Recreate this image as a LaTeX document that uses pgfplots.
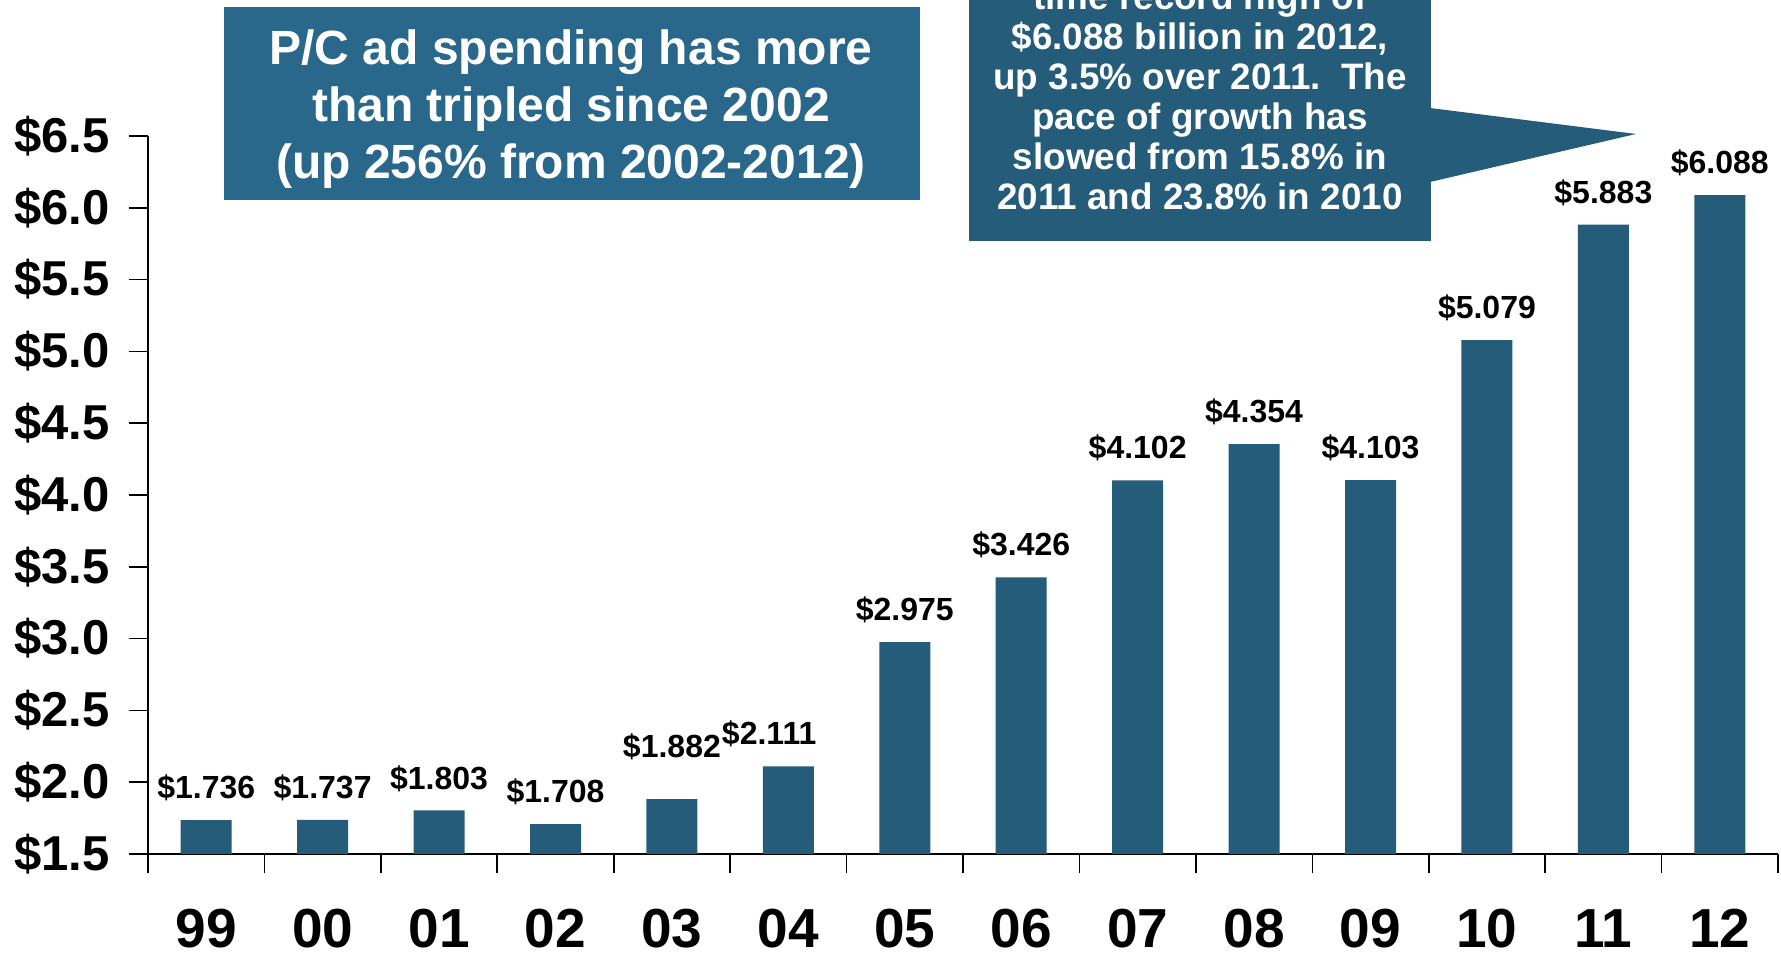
\documentclass[border=0pt]{standalone}
\usepackage{fontspec}
\setmainfont{Liberation Sans}
\usepackage{pgfplots}
\pgfplotsset{compat=1.18}
\usepackage{pgfplotstable}
\definecolor{barblue}{HTML}{245C7A}
\definecolor{boxblue}{HTML}{29688A}
\definecolor{callout}{HTML}{245C7A}

% P/C ad spending, $ billions; dx/dy nudge the value labels
\pgfplotstableread{
x  y      dx    dy
0  1.736  0     0
1  1.737  0     0
2  1.803  0     0
3  1.708  0     0
4  1.882  0     10
5  2.111  -9.6  0
6  2.975  0     0
7  3.426  0     0
8  4.102  0     0
9  4.354  0     0
10 4.103  0     0
11 5.079  0     0
12 5.883  0     0
13 6.088  0     0
}\spend

\begin{document}
\begin{tikzpicture}
\path[use as bounding box, clip] (0,0) rectangle (890.5pt,478pt);
\begin{axis}[
    at={(74pt,51pt)}, anchor=south west,
    scale only axis, width=815pt, height=359pt,
    ybar, bar width=25.5pt,
    xmin=-0.5, xmax=13.5, ymin=1.5, ymax=6.5,
    axis lines=left, axis line style={-, line width=1pt},
    xtick={-0.5,0.5,...,13.5}, x tick label as interval,
    xticklabels={99,00,01,02,03,04,05,06,07,08,09,10,11,12},
    ytick={1.5,2,2.5,3,3.5,4,4.5,5,5.5,6,6.5},
    yticklabels={\$1.5,\$2.0,\$2.5,\$3.0,\$3.5,\$4.0,\$4.5,\$5.0,\$5.5,\$6.0,\$6.5},
    tick align=outside, major tick length=9.7pt,
    tick style={black, line width=0.8pt},
    yticklabel style={font=\bfseries\fontsize{24.5}{24}\selectfont, xshift=-6pt},
    xticklabel style={font=\bfseries\fontsize{27.5}{28}\selectfont, yshift=-14.5pt},
    /pgf/number format/assume math mode=true,
]
    \addplot[fill=barblue, draw=none,
        nodes near coords={\$\pgfmathprintnumber[fixed,fixed zerofill,precision=3]{\pgfplotspointmeta}},
        visualization depends on={\thisrow{dx} \as \dx},
        visualization depends on={\thisrow{dy}+6 \as \dy},
        every node near coord/.append style={font=\bfseries\fontsize{16}{16}\selectfont,
            xshift=\dx pt, yshift=\dy pt}]
        table[x=x, y=y] {\spend};
\end{axis}
% callouts
\fill[boxblue] (112pt,378pt) rectangle (460pt,474.5pt);
\node[text=white, font=\bfseries\fontsize{24}{28.4}\selectfont, align=center]
    at (285.5pt,423.5pt) {P/C ad spending has more\\than tripled since 2002\\(up 256\% from 2002-2012)};
\fill[callout] (484.5pt,357.5pt) rectangle (715.5pt,500pt);
\fill[callout] (715pt,424pt) -- (818pt,411pt) -- (715pt,387pt) -- cycle;
\node[text=white, font=\bfseries\fontsize{18.4}{20}\selectfont, align=center]
    at (600pt,429.7pt) {time record high of\\\$6.088 billion in 2012,\\up 3.5\% over 2011.\ \ The\\pace of growth has\\slowed from 15.8\% in\\2011 and 23.8\% in 2010};
\end{tikzpicture}
\end{document}
